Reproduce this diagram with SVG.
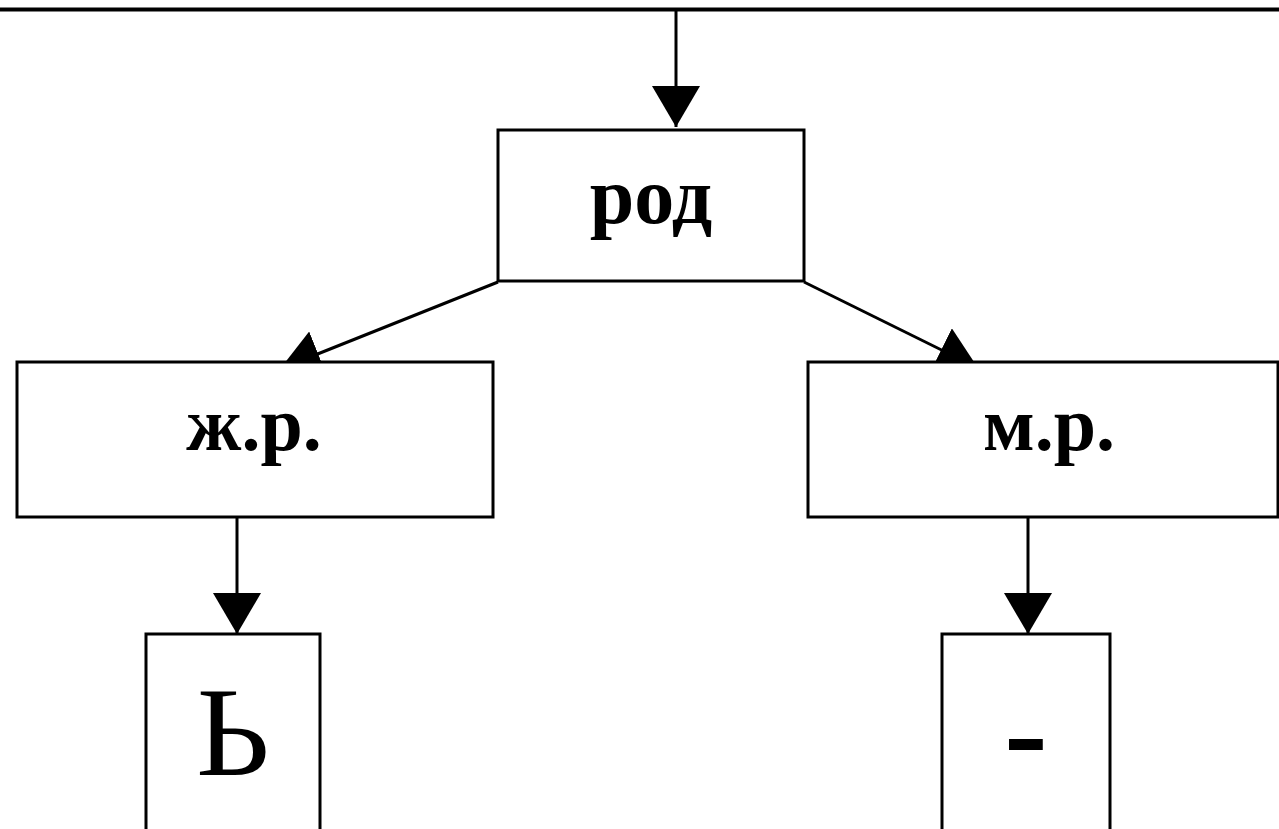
<svg xmlns="http://www.w3.org/2000/svg" width="1279" height="829" viewBox="0 0 1279 829">
<style>
.box{fill:#fff;stroke:#000;stroke-width:3}
.ln{fill:none;stroke:#000;stroke-width:3}
.t{font-family:"Liberation Serif","Times New Roman",serif;font-weight:bold;text-anchor:middle;fill:#000}
</style>
<defs>
<marker id="ah" markerUnits="userSpaceOnUse" viewBox="0 0 41 48" markerWidth="41" markerHeight="48" refX="41" refY="24" orient="auto">
<path d="M0,0 L41,24 L0,48 Z" fill="#000"/>
</marker>
</defs>
<rect width="1279" height="829" fill="#fff"/>
<g id="connectors">
<line class="ln" x1="0" y1="9.5" x2="1279" y2="9.5" style="stroke-width:4"/>
<line class="ln" x1="676" y1="9" x2="676" y2="127" marker-end="url(#ah)"/>
<line class="ln" x1="498" y1="282" x2="280" y2="369" marker-end="url(#ah)"/>
<line class="ln" x1="804" y1="282" x2="978" y2="368" marker-end="url(#ah)"/>
<line class="ln" x1="237" y1="517" x2="237" y2="634" marker-end="url(#ah)"/>
<line class="ln" x1="1028" y1="517" x2="1028" y2="634" marker-end="url(#ah)"/>
</g>
<g id="node-rod">
<rect class="box" x="498" y="130" width="306" height="151"/>
<text class="t" x="651" y="223" font-size="80">род</text>
</g>
<g id="node-zhr">
<rect class="box" x="17" y="362" width="476" height="155"/>
<text class="t" x="254" y="450" font-size="76">ж.р.</text>
</g>
<g id="node-mr">
<rect class="box" x="808" y="362" width="470" height="155"/>
<text class="t" x="1049" y="450" font-size="76">м.р.</text>
</g>
<g id="node-soft">
<rect class="box" x="146" y="634" width="174" height="210"/>
<text class="t" x="233" y="775" font-size="128" style="font-weight:normal">Ь</text>
</g>
<g id="node-dash">
<rect class="box" x="942" y="634" width="168" height="210"/>
<text class="t" x="1026" y="775" font-size="130">-</text>
</g>
</svg>
